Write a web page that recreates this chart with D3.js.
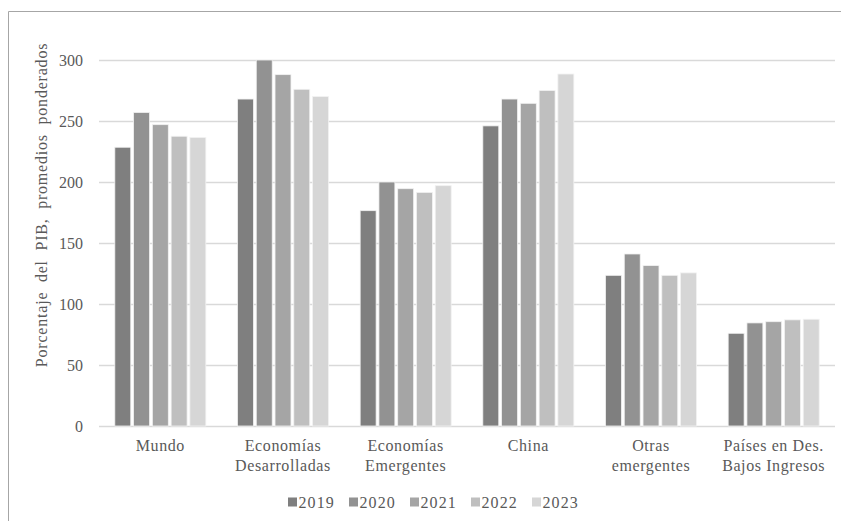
<!DOCTYPE html>
<html>
<head>
<meta charset="utf-8">
<script src="https://cdn.jsdelivr.net/npm/d3@7"></script>
<style>
  html, body { margin: 0; padding: 0; background: #fff; }
  svg { display: block; }
</style>
</head>
<body>
<svg id="chart" width="841" height="521"></svg>
<script>
const categories = [
  ["Mundo"],
  ["Economías", "Desarrolladas"],
  ["Economías", "Emergentes"],
  ["China"],
  ["Otras", "emergentes"],
  ["Países en Des.", "Bajos Ingresos"]
];
const years = ["2019", "2020", "2021", "2022", "2023"];
const s2019 = [228.5, 268, 176.5, 246, 123.5, 76];
const s2020 = [257, 300, 200, 268, 141, 84.5];
const s2021 = [247, 288, 194.5, 264.5, 131.5, 85.5];
const s2022 = [237.5, 276, 191.5, 275, 123.5, 87];
const s2023 = [236.5, 270, 197, 288.5, 125.5, 87.5];
const seriesValues = [s2019, s2020, s2021, s2022, s2023];
const colors = ["#7f7f7f", "#929292", "#a5a5a5", "#bfbfbf", "#d6d6d6"];
const yTicks = [0, 50, 100, 150, 200, 250, 300];
const yTitle = "Porcentaje  del  PIB,  promedios  ponderados";

const svg = d3.select("#chart");
const W = 841, H = 521;
const plot = { left: 99, right: 835, top: 60, bottom: 426 };
const textColor = "#595959";
const FONT = "Liberation Serif";

// outer border (only top/left visible)
svg.append("path")
  .attr("d", `M8.5,${H} V11.5 H${W}`)
  .attr("fill", "none")
  .attr("stroke", "#a6a6a6")
  .attr("stroke-width", 1);

const catIdx = categories.map((d, i) => i);
const x0 = d3.scaleBand().domain(catIdx).range([plot.left, plot.right])
  .paddingInner(0.258).paddingOuter(0.129);
const x1 = d3.scaleBand().domain(years).range([0, x0.bandwidth()]).paddingInner(0.15);
const y = d3.scaleLinear().domain([0, 300]).range([plot.bottom, plot.top]);

// gridlines + y tick labels
const yAxis = d3.axisLeft(y).tickValues(yTicks).tickSize(-(plot.right - plot.left)).tickPadding(16);
const gy = svg.append("g").attr("transform", `translate(${plot.left},0)`).call(yAxis);
gy.attr("font-family", FONT).attr("font-size", 16);
gy.select(".domain").remove();
gy.selectAll(".tick line").attr("stroke", "#d9d9d9").attr("stroke-width", 1.3);
gy.selectAll(".tick text")
  .attr("fill", textColor)
  .attr("font-family", FONT)
  .attr("font-size", 16)
  .attr("dy", "0.36em");

// bars
const groups = svg.append("g").selectAll("g")
  .data(catIdx).join("g")
  .attr("transform", d => `translate(${x0(d)},0)`);

groups.selectAll("rect")
  .data(ci => years.map((yr, si) => ({ yr, si, v: seriesValues[si][ci] })))
  .join("rect")
  .attr("x", d => x1(d.yr))
  .attr("width", x1.bandwidth())
  .attr("y", d => y(d.v))
  .attr("height", d => y(0) - y(d.v))
  .attr("fill", d => colors[d.si])
  .attr("stroke", "#f2f2f2")
  .attr("stroke-width", 0.8);

// category labels
catIdx.forEach(i => {
  const cx = x0(i) + x0.bandwidth() / 2;
  const t = svg.append("text")
    .attr("x", cx)
    .attr("y", 451)
    .attr("text-anchor", "middle")
    .attr("fill", textColor)
    .attr("font-family", FONT)
    .attr("font-size", 16)
    .attr("letter-spacing", 0.6);
  categories[i].forEach((line, k) => {
    t.append("tspan")
      .attr("x", cx)
      .attr("dy", k === 0 ? 0 : 20)
      .text(line);
  });
});

// y title
svg.append("text")
  .attr("transform", `translate(46.5,205) rotate(-90)`)
  .attr("text-anchor", "middle")
  .attr("fill", textColor)
  .attr("font-family", FONT)
  .attr("font-size", 16)
  .attr("letter-spacing", 0.8)
  .style("white-space", "pre")
  .text(yTitle);

// legend
const legend = svg.append("g").attr("transform", "translate(288,502)");
const lItems = legend.selectAll("g").data(years).join("g")
  .attr("transform", (d, i) => `translate(${i * 61},0)`);
lItems.append("rect")
  .attr("x", 0).attr("y", -4.5).attr("width", 9).attr("height", 9)
  .attr("fill", (d, i) => colors[i]);
lItems.append("text")
  .attr("x", 10.5).attr("y", 5.5)
  .attr("fill", textColor)
  .attr("font-family", FONT)
  .attr("font-size", 16)
  .attr("letter-spacing", 1.1)
  .text(d => d);
</script>
</body>
</html>
